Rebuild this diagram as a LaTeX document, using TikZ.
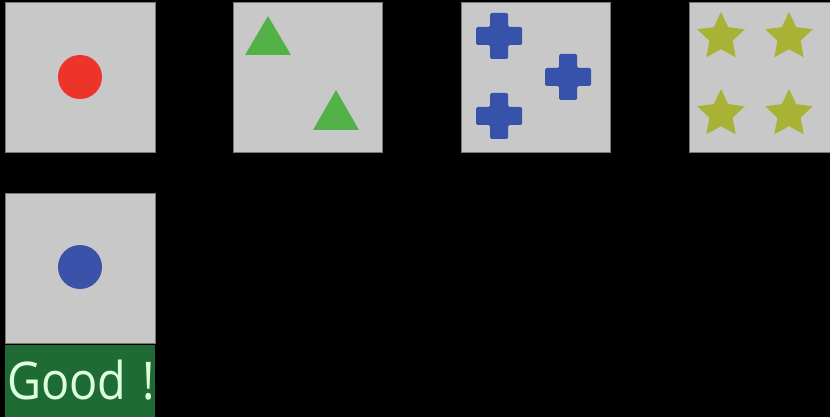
\documentclass[tikz,border=0pt]{standalone}
\usepackage{fontspec}
\setmainfont{Open Sans}
\usetikzlibrary{shapes.geometric}
\definecolor{cardfill}{RGB}{200,200,200}
\definecolor{cardline}{RGB}{120,120,120}
\definecolor{dotred}{RGB}{236,52,42}
\definecolor{dotblue}{RGB}{58,82,170}
\definecolor{trigreen}{RGB}{82,178,72}
\definecolor{crossblue}{RGB}{55,82,170}
\definecolor{starolive}{RGB}{168,178,52}
\definecolor{goodgreen}{RGB}{30,108,52}
\definecolor{goodtext}{RGB}{222,255,222}
\tikzset{
  card/.style={draw=cardline, line width=1pt, fill=cardfill},
  stardot/.style={star, star points=5, star point ratio=2.05, fill=starolive, minimum size=50pt, inner sep=0pt},
}
\newcommand{\crossat}[2]{%
  \fill[crossblue, rounded corners=1.5pt] (#1-23,#2-9) -- (#1-9,#2-9) -- (#1-9,#2-23) -- (#1+9,#2-23) -- (#1+9,#2-9) -- (#1+23,#2-9) -- (#1+23,#2+9) -- (#1+9,#2+9) -- (#1+9,#2+23) -- (#1-9,#2+23) -- (#1-9,#2+9) -- (#1-23,#2+9) -- cycle;}
\begin{document}
\begin{tikzpicture}[x=1pt,y=-1pt]
\fill[black] (0,0) rectangle (830,417);
\useasboundingbox (0,0) rectangle (830,417);
% cards
\draw[card] (5,3) rectangle (155,153);
\draw[card] (233,3) rectangle (382,153);
\draw[card] (461,3) rectangle (610,153);
\draw[card] (689,3) rectangle (834,153);
\draw[card] (5,193) rectangle (155,343);
% card 1: red dot
\fill[dotred] (80,77) circle (22);
% card 2: triangles
\fill[trigreen] (268,16) -- (291,55) -- (245,55) -- cycle;
\fill[trigreen] (336,90) -- (359,130) -- (313,130) -- cycle;
% card 3: crosses
\crossat{499}{36}
\crossat{568}{77}
\crossat{499}{116}
% card 4: stars
\node[stardot] (s1) at (721,37) {};
\node[stardot] (s2) at (789,37) {};
\node[stardot] (s3) at (721,114) {};
\node[stardot] (s4) at (789,114) {};
% row 2 card: blue dot
\fill[dotblue] (80,267) circle (22);
% Good box
\fill[goodgreen] (5,345) rectangle (155,417);
\node[anchor=base west, inner sep=0pt, text=goodtext, font=\fontsize{52}{52}\selectfont, xscale=0.9, transform shape] (good) at (7,399) {Good\hspace{4pt} !};
\end{tikzpicture}
\end{document}
